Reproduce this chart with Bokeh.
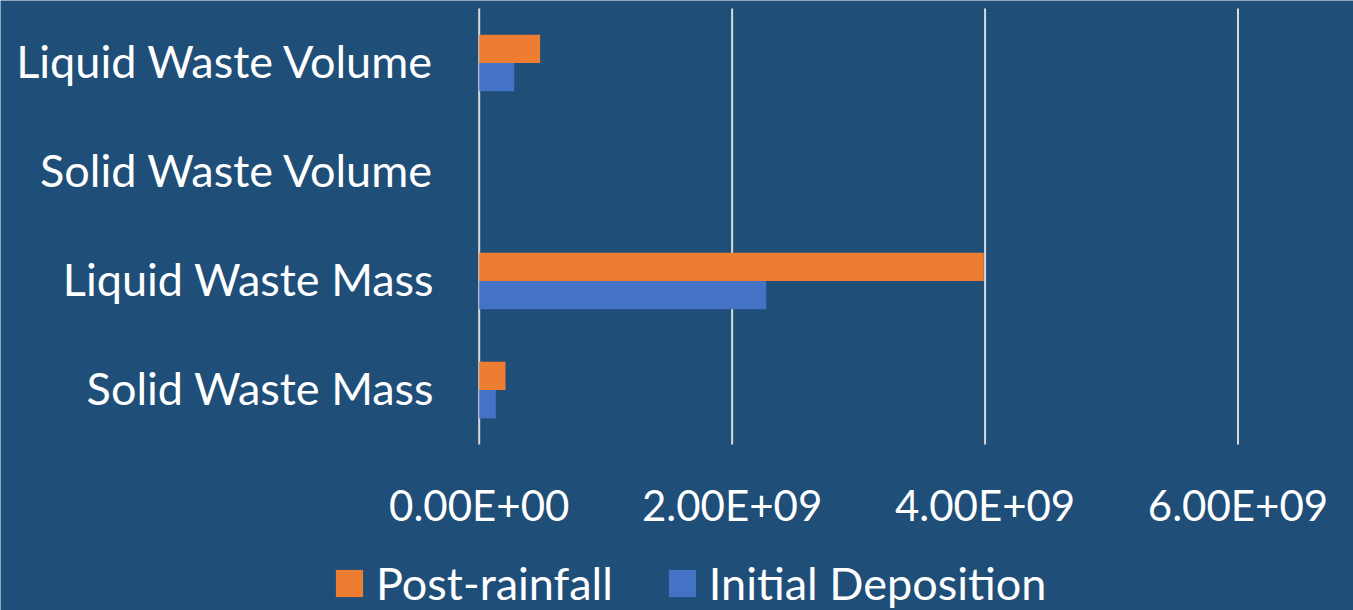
from bokeh.plotting import figure
from bokeh.models import Range1d, Legend, LegendItem, ColumnDataSource
from bokeh.core.properties import value
from bokeh.embed import file_html
from bokeh.resources import INLINE

# Waste quantities per measure, two scenarios
categories = ["Liquid Waste Volume", "Solid Waste Volume", "Liquid Waste Mass", "Solid Waste Mass"]
post_rainfall = [4.82e8, 0.0, 3.99e9, 2.08e8]
initial_deposition = [2.77e8, 0.0, 2.27e9, 1.31e8]
x_ticks = [0, 2e9, 4e9, 6e9]
x_tick_labels = [f"{t:.2E}" for t in x_ticks]
series_names = ["Post-rainfall", "Initial Deposition"]

BG = "#1F4E79"
ORANGE = "#ED7D31"
BLUE = "#4472C4"
GRID = "#D9D9D9"
FONT = "Lato"

# canvas and plotting-area geometry (pixels)
W, H = 1353, 610
AREA_L, AREA_R, AREA_T, AREA_B = 478.7, 1237.5, 8, 444
X_MAX = x_ticks[-1]
n = len(categories)

# data units per pixel, so the value axis spans the plotting area exactly
xs = X_MAX / (AREA_R - AREA_L)
band = (AREA_B - AREA_T) / n  # pixels per category band
x_range = Range1d(-AREA_L * xs, X_MAX + (W - AREA_R) * xs)
y_range = Range1d(-(H - AREA_T) / band, AREA_T / band)

# categories run top to bottom: band i is centred at -(i + 0.5)
centers = [-(i + 0.5) for i in range(n)]
bar_h = 0.26

p = figure(
    width=W, height=H, x_range=x_range, y_range=y_range,
    output_backend="svg", toolbar_location=None,
    background_fill_color=BG, border_fill_color=BG, min_border=0,
)
p.outline_line_color = None
p.axis.visible = False
p.grid.grid_line_color = None

# vertical gridlines
p.segment(x0=x_ticks, y0=[0] * len(x_ticks), x1=x_ticks, y1=[-n] * len(x_ticks),
          line_color=GRID, line_width=2)

src = ColumnDataSource(dict(
    y_post=[c + bar_h / 2 for c in centers],
    y_init=[c - bar_h / 2 for c in centers],
    post=post_rainfall, init=initial_deposition,
))
r_post = p.hbar(y="y_post", left=0, right="post", height=bar_h, source=src,
                fill_color=ORANGE, line_color=None)
r_init = p.hbar(y="y_init", left=0, right="init", height=bar_h, source=src,
                fill_color=BLUE, line_color=None)

# category labels, right-aligned left of the zero line
p.text(x=[0] * n, y=centers, text=categories, x_offset=-45, y_offset=-2,
       text_align="right", text_baseline="middle", text_color="white",
       text_font=value(FONT), text_font_size=value("45px"))

# value tick labels under the plotting area
p.text(x=x_ticks, y=[-n] * len(x_ticks), text=x_tick_labels, y_offset=60,
       text_align="center", text_baseline="middle", text_color="white",
       text_font=value(FONT), text_font_size=value("42px"))

# legend swatches are drawn at 80% of the glyph box
legend = Legend(
    items=[LegendItem(label=series_names[0], renderers=[r_post]),
           LegendItem(label=series_names[1], renderers=[r_init])],
    orientation="horizontal", location=(332, 0),
    background_fill_alpha=0, border_line_color=None,
    label_text_font=FONT, label_text_font_size="45px", label_text_color="white",
    glyph_width=34, glyph_height=34, spacing=52, label_standoff=10,
    margin=0, padding=0,
)
p.add_layout(legend, "center")

open("out.html", "w").write(file_html(p, INLINE))
